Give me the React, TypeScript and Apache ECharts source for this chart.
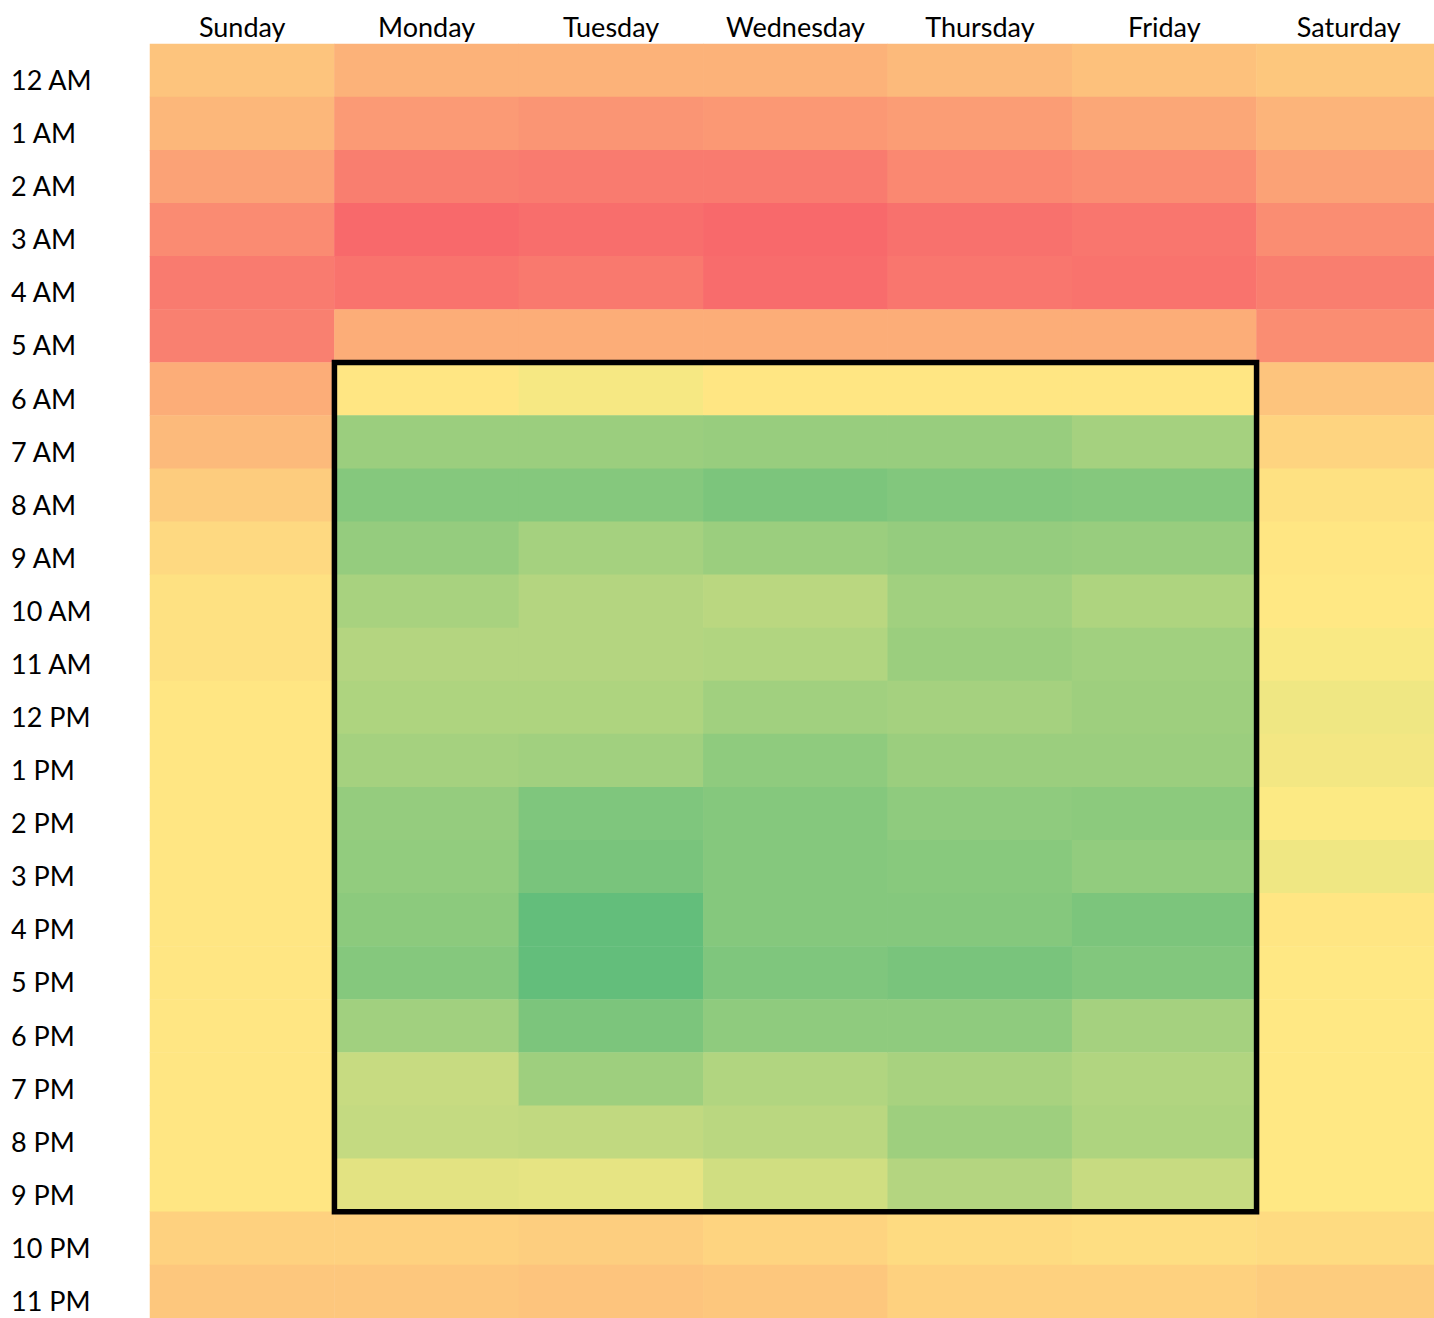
import React, { useEffect, useRef } from "react";
import * as echarts from "echarts";

const days = ["Sunday", "Monday", "Tuesday", "Wednesday", "Thursday", "Friday", "Saturday"];
const hours = [
  "12 AM", "1 AM", "2 AM", "3 AM", "4 AM", "5 AM", "6 AM", "7 AM", "8 AM", "9 AM", "10 AM", "11 AM",
  "12 PM", "1 PM", "2 PM", "3 PM", "4 PM", "5 PM", "6 PM", "7 PM", "8 PM", "9 PM", "10 PM", "11 PM",
];

// One array per day, 24 hourly scores (0 = red, 50 = yellow, 100 = green)
const sunday = [35, 30, 22, 13, 7, 9, 26, 31, 38, 43, 46, 46, 48, 48, 48, 48, 48, 48, 48, 48, 48, 48, 40, 36];
const monday = [28, 19, 8, 0, 4, 26, 48, 82, 89, 84, 78, 74, 76, 79, 84, 85, 87, 89, 80, 68, 69, 59, 40, 36];
const tuesday = [28, 17, 7, 2, 6, 26, 53, 82, 89, 79, 74, 74, 76, 80, 91, 93, 100, 100, 92, 81, 70, 58, 39, 35];
const wednesday = [28, 18, 7, 0, 1, 26, 48, 83, 92, 82, 72, 75, 80, 86, 89, 89, 89, 91, 86, 75, 72, 65, 41, 36];
const thursday = [31, 20, 12, 3, 5, 26, 48, 83, 90, 84, 80, 82, 79, 82, 86, 88, 89, 93, 86, 78, 81, 74, 44, 40];
const friday = [34, 24, 14, 5, 4, 26, 48, 79, 89, 83, 76, 80, 81, 82, 87, 85, 92, 90, 79, 75, 76, 68, 45, 40];
const saturday = [36, 29, 22, 14, 8, 14, 35, 41, 46, 48, 49, 52, 55, 54, 51, 55, 48, 49, 49, 49, 49, 49, 44, 38];

const dayValues = [sunday, monday, tuesday, wednesday, thursday, friday, saturday];

// Highlighted block: [startDay, startHour, endDay, endHour]
const highlight = [[1, 6, 5, 21]];

export default function App() {
  const ref = useRef<HTMLDivElement>(null);

  useEffect(() => {
    if (!ref.current) return;
    const chart = echarts.init(ref.current, null, { renderer: "svg" });
    const data: number[][] = [];
    dayValues.forEach((vals, d) => vals.forEach((v, h) => data.push([d, h, v])));

    const font = "Lato, 'Open Sans', sans-serif";
    chart.setOption({
      animation: false,
      backgroundColor: "#ffffff",
      grid: { left: 150, right: 0, top: 44, bottom: 0 },
      xAxis: {
        type: "category",
        data: days,
        position: "top",
        axisLine: { show: false },
        axisTick: { show: false },
        splitLine: { show: false },
        axisLabel: { color: "#000", fontSize: 27, fontFamily: font, margin: 4 },
      },
      yAxis: {
        type: "category",
        data: hours,
        inverse: true,
        axisLine: { show: false },
        axisTick: { show: false },
        splitLine: { show: false },
        axisLabel: {
          color: "#000",
          fontSize: 27,
          fontFamily: font,
          align: "left",
          margin: 139,
          verticalAlign: "top",
          lineHeight: 18,
        },
      },
      visualMap: {
        show: false,
        min: 0,
        max: 100,
        seriesIndex: 0,
        inRange: { color: ["#F8696B", "#FFEB84", "#63BE7B"] },
      },
      series: [
        {
          type: "heatmap",
          data,
          itemStyle: { borderWidth: 0 },
          emphasis: { disabled: true },
        },
        {
          type: "custom",
          data: highlight,
          z: 10,
          silent: true,
          renderItem: (params: any, api: any) => {
            const c1 = api.coord([api.value(0), api.value(1)]);
            const c2 = api.coord([api.value(2), api.value(3)]);
            const size = api.size([1, 1]);
            const w = size[0];
            const h = size[1];
            return {
              type: "rect",
              shape: {
                x: c1[0] - w / 2,
                y: c1[1] - h / 2,
                width: c2[0] - c1[0] + w,
                height: c2[1] - c1[1] + h,
              },
              style: { fill: "none", stroke: "#000", lineWidth: 5.5 },
            };
          },
        },
      ],
    });
    return () => chart.dispose();
  }, []);

  return (
    <div
      style={{
        position: "absolute",
        left: 0,
        top: 0,
        width: 1434,
        height: 1318,
        overflow: "hidden",
        background: "#fff",
      }}
    >
      <div ref={ref} style={{ width: 1441, height: 1318 }} />
    </div>
  );
}
